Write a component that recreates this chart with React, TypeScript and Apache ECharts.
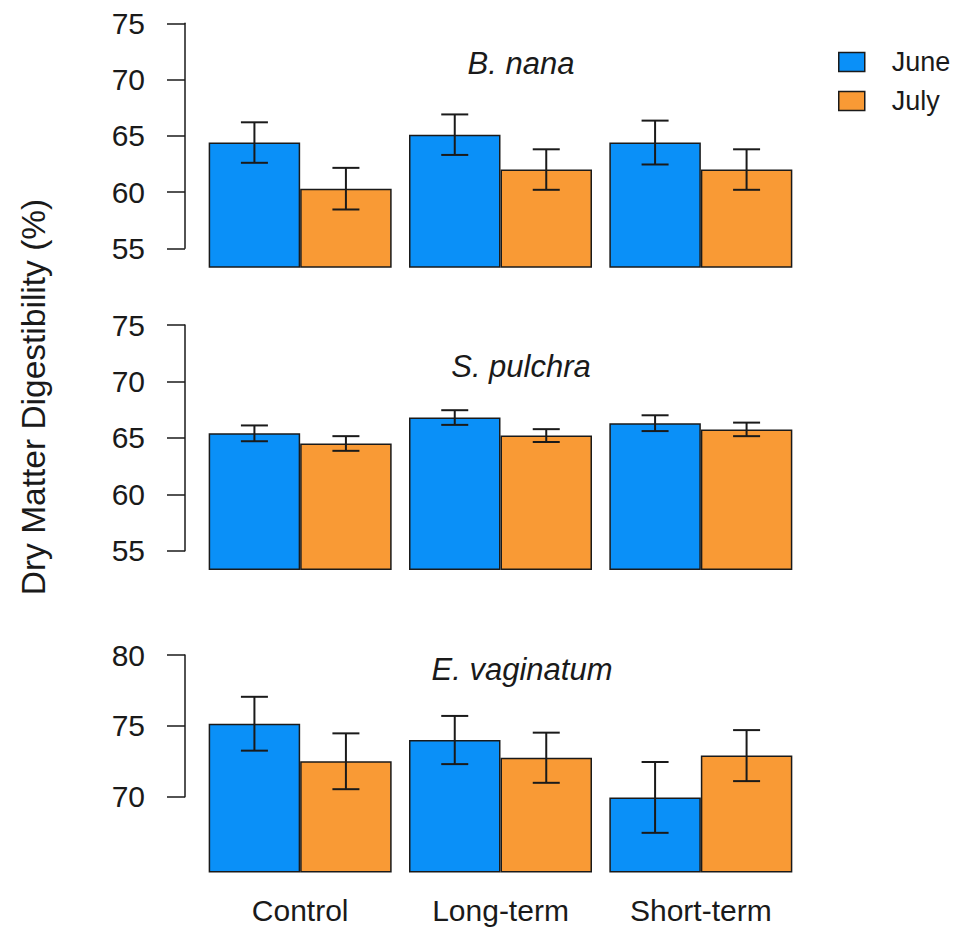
import React, { useEffect, useRef } from "react";
import * as echarts from "echarts";

const categories = ["Control", "Long-term", "Short-term"];
const months = ["June", "July"];
const panelTitles = ["B. nana", "S. pulchra", "E. vaginatum"];

const bNanaJune = [64.4, 65.1, 64.4];
const bNanaJuly = [60.3, 62.0, 62.0];
const bNanaJuneErr = [1.8, 1.8, 1.95];
const bNanaJulyErr = [1.85, 1.8, 1.8];

const sPulchraJune = [65.4, 66.8, 66.3];
const sPulchraJuly = [64.5, 65.2, 65.75];
const sPulchraJuneErr = [0.7, 0.65, 0.7];
const sPulchraJulyErr = [0.65, 0.57, 0.6];

const eVagJune = [75.15, 74.0, 69.95];
const eVagJuly = [72.5, 72.75, 72.9];
const eVagJuneErr = [1.9, 1.7, 2.5];
const eVagJulyErr = [1.97, 1.77, 1.8];

// tick axis ranges per panel: [min, max, interval]
const tickRanges = [
  [55, 75, 5],
  [55, 75, 5],
  [70, 80, 5],
];

const yLabel = "Dry Matter Digestibility (%)";

const BLUE = "#0A90F8";
const ORANGE = "#F99A35";
const INK = "#1a1a1a";
const FONT = "'Liberation Sans', Arial, sans-serif";

const BAR_W = 91.5;

// layout per panel (pixels)
const layout = [
  { top: 23.3, axisBottom: 248.3, barBottom: 267, titleX: 521, titleY: 63 },
  { top: 325, axisBottom: 550.7, barBottom: 569.3, titleX: 521, titleY: 366 },
  { top: 655, axisBottom: 796.7, barBottom: 871.7, titleX: 522, titleY: 669 },
];

const panelData = [
  { june: bNanaJune, july: bNanaJuly, juneErr: bNanaJuneErr, julyErr: bNanaJulyErr },
  { june: sPulchraJune, july: sPulchraJuly, juneErr: sPulchraJuneErr, julyErr: sPulchraJulyErr },
  { june: eVagJune, july: eVagJuly, juneErr: eVagJuneErr, julyErr: eVagJulyErr },
];

function errSeries(name: string, vals: number[], errs: number[], offset: number, axisIdx: number) {
  return {
    type: "custom",
    name,
    xAxisIndex: axisIdx,
    yAxisIndex: axisIdx,
    z: 5,
    encode: { x: 0, y: 1 },
    data: vals.map((v, i) => [i, v, errs[i]]),
    renderItem: (params: any, api: any) => {
      const ci = api.value(0);
      const v = api.value(1);
      const e = api.value(2);
      const hi = api.coord([ci, v + e]);
      const lo = api.coord([ci, v - e]);
      const x = hi[0] + offset;
      const cap = 13.5;
      const style = { stroke: INK, lineWidth: 2 };
      return {
        type: "group",
        children: [
          { type: "line", shape: { x1: x, y1: hi[1], x2: x, y2: lo[1] }, style },
          { type: "line", shape: { x1: x - cap, y1: hi[1], x2: x + cap, y2: hi[1] }, style },
          { type: "line", shape: { x1: x - cap, y1: lo[1], x2: x + cap, y2: lo[1] }, style },
        ],
      };
    },
  };
}

export default function App() {
  const ref = useRef<HTMLDivElement>(null);
  useEffect(() => {
    if (!ref.current) return;
    const chart = echarts.init(ref.current, undefined, { renderer: "svg" });

    const grids: any[] = [];
    const xAxes: any[] = [];
    const yAxes: any[] = [];
    const series: any[] = [];
    const graphics: any[] = [];

    layout.forEach((L, p) => {
      const [tMin, tMax] = tickRanges[p];
      const pxPerUnit = (L.axisBottom - L.top) / (tMax - tMin);
      const barMin = tMax - (L.barBottom - L.top) / pxPerUnit;
      grids.push({ left: 200, width: 601, top: L.top, height: L.barBottom - L.top });
      xAxes.push({
        type: "category",
        gridIndex: p,
        data: categories,
        axisLine: { show: false },
        axisTick: { show: false },
        axisLabel: {
          show: p === 2,
          fontSize: 30,
          lineHeight: 34,
          margin: 22,
          color: INK,
          fontFamily: FONT,
        },
      });
      yAxes.push({
        type: "value",
        gridIndex: p,
        min: barMin,
        max: tMax,
        show: false,
        splitLine: { show: false },
      });
      const d = panelData[p];
      series.push({
        type: "bar",
        name: months[0],
        xAxisIndex: p,
        yAxisIndex: p,
        data: d.june,
        barWidth: BAR_W,
        barGap: "0%",
        itemStyle: { color: BLUE, borderColor: INK, borderWidth: 1.5 },
      });
      series.push({
        type: "bar",
        name: months[1],
        xAxisIndex: p,
        yAxisIndex: p,
        data: d.july,
        barWidth: BAR_W,
        barGap: "0%",
        itemStyle: { color: ORANGE, borderColor: INK, borderWidth: 1.5 },
      });
      series.push(errSeries("June err " + p, d.june, d.juneErr, -BAR_W / 2, p));
      series.push(errSeries("July err " + p, d.july, d.julyErr, BAR_W / 2, p));

      graphics.push({
        type: "text",
        x: L.titleX,
        y: L.titleY,
        style: {
          text: panelTitles[p],
          fontSize: 31,
          fontStyle: "italic",
          fontFamily: FONT,
          fill: INK,
          align: "center",
          verticalAlign: "middle",
        },
      });
    });

    layout.forEach((L, p) => {
      const [tMin, tMax, tInt] = tickRanges[p];
      grids.push({ left: 185, width: 1, top: L.top, height: L.axisBottom - L.top });
      xAxes.push({ type: "value", gridIndex: 3 + p, show: false });
      yAxes.push({
        type: "value",
        gridIndex: 3 + p,
        min: tMin,
        max: tMax,
        interval: tInt,
        splitLine: { show: false },
        axisLine: { show: true, lineStyle: { color: INK, width: 1.5 } },
        axisTick: { show: true, length: 18, lineStyle: { color: INK, width: 1.5 } },
        axisLabel: { margin: 40, fontSize: 30, color: INK, fontFamily: FONT },
      });
    });

    graphics.push({
      type: "text",
      x: 33,
      y: 397,
      rotation: Math.PI / 2,
      style: {
        text: yLabel,
        fontSize: 33.5,
        fontFamily: FONT,
        fill: INK,
        align: "center",
        verticalAlign: "middle",
      },
    });

    chart.setOption({
      animation: false,
      backgroundColor: "#ffffff",
      textStyle: { fontFamily: FONT },
      grid: grids,
      xAxis: xAxes,
      yAxis: yAxes,
      series,
      legend: {
        data: months,
        orient: "vertical",
        left: 833,
        top: 41.5,
        itemWidth: 26,
        itemHeight: 19,
        itemGap: 8,
        icon: "rect",
        selectedMode: false,
        itemStyle: { borderColor: INK, borderWidth: 1.5 },
        textStyle: { fontSize: 27, lineHeight: 31, color: INK, fontFamily: FONT, padding: [0, 0, 0, 22] },
      },
      graphic: graphics,
    });
    return () => chart.dispose();
  }, []);
  return (
    <div
      ref={ref}
      style={{ position: "absolute", left: 0, top: 0, width: 962, height: 932 }}
    />
  );
}
